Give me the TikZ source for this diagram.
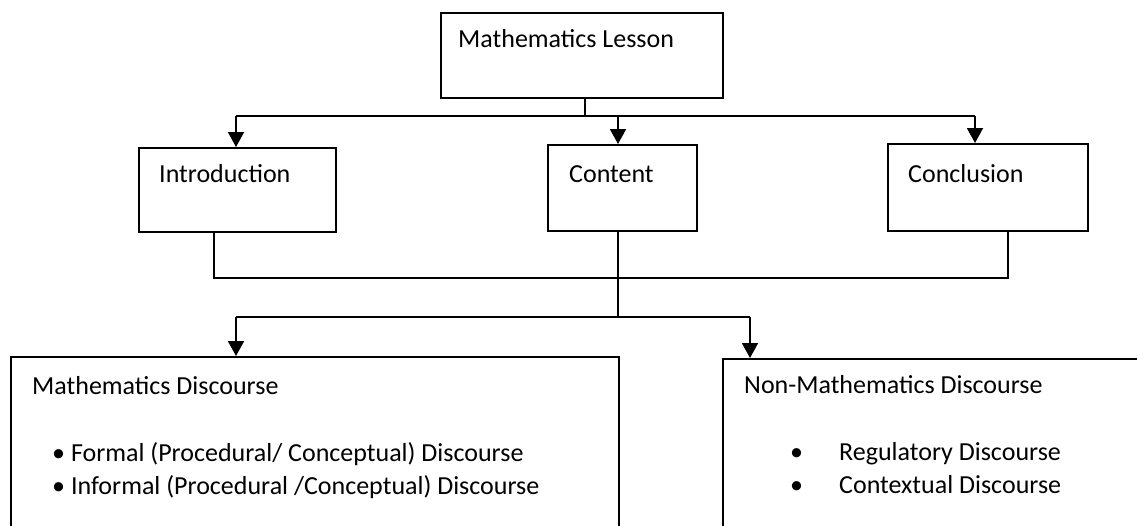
\documentclass[tikz,border=0pt]{standalone}
\usepackage{fontspec}
\setmainfont{Carlito}
\usetikzlibrary{arrows.meta}
\begin{document}
\begin{tikzpicture}[x=1pt,y=-1pt,
  box/.style={draw, line width=1.9pt, anchor=north west, inner sep=0pt},
  lbl/.style={anchor=base west, inner sep=0pt, font=\fontsize{26}{30}\selectfont},
  wire/.style={line width=1.9pt},
  arr/.style={wire, -{Triangle[width=16pt,length=15pt]}}]
\useasboundingbox (0,0) rectangle (1137,525);
\clip (0,0) rectangle (1137,525);

% boxes
\node[box, minimum width=282pt, minimum height=85pt] (top) at (440,12) {};
\node[box, minimum width=197pt, minimum height=84pt] (intro) at (138,147) {};
\node[box, minimum width=149pt, minimum height=86pt] (content) at (547,144) {};
\node[box, minimum width=200pt, minimum height=87pt] (concl) at (887,143) {};
\node[box, minimum width=608pt, minimum height=200pt] (mdisc) at (10,356) {};
\node[box, minimum width=423pt, minimum height=200pt] (ndisc) at (722,358) {};

% box texts
\node[lbl] (tTop) at (458,47) {Mathematics Lesson};
\node[lbl] (tIntro) at (159,182) {Introduction};
\node[lbl] (tContent) at (569,182) {Content};
\node[lbl] (tConcl) at (908,182) {Conclusion};
\node[lbl] (tMath) at (32,394) {Mathematics Discourse};
\node[lbl] (tFormal) at (52,461) {• Formal (Procedural/ Conceptual) Discourse};
\node[lbl] (tInformal) at (52,494) {• Informal (Procedural /Conceptual) Discourse};
\node[lbl] (tNon) at (744,393) {Non-Mathematics Discourse};
\node[lbl] (tReg) at (790,460) {\makebox[49pt][l]{•}Regulatory Discourse};
\node[lbl] (tCtx) at (790,493) {\makebox[49pt][l]{•}Contextual Discourse};

% lesson to its three parts
\coordinate (j0) at (585,116);
\coordinate (aI) at (236,116);
\coordinate (aC) at (618,116);
\coordinate (aR) at (975,116);
\draw[wire] (top.south -| j0) -- (j0);
\draw[wire] (aI) -- (aR);
\draw[arr] (aI) -- (aI |- intro.north);
\draw[arr] (aC) -- (aC |- content.north);
\draw[arr] (aR) -- (aR |- concl.north);

% parts joined and split into discourse types
\coordinate (bI) at (214,278);
\coordinate (bR) at (1008,278);
\draw[wire] (intro.south -| bI) -- (bI) -- (bR) -- (concl.south -| bR);
\coordinate (cJ) at (618,317);
\draw[wire] (content.south -| cJ) -- (cJ);
\coordinate (dL) at (236,317);
\coordinate (dR) at (750,317);
\draw[wire] (dL) -- (dR);
\draw[arr] (dL) -- (dL |- mdisc.north);
\draw[arr] (dR) -- (dR |- ndisc.north);
\end{tikzpicture}
\end{document}
